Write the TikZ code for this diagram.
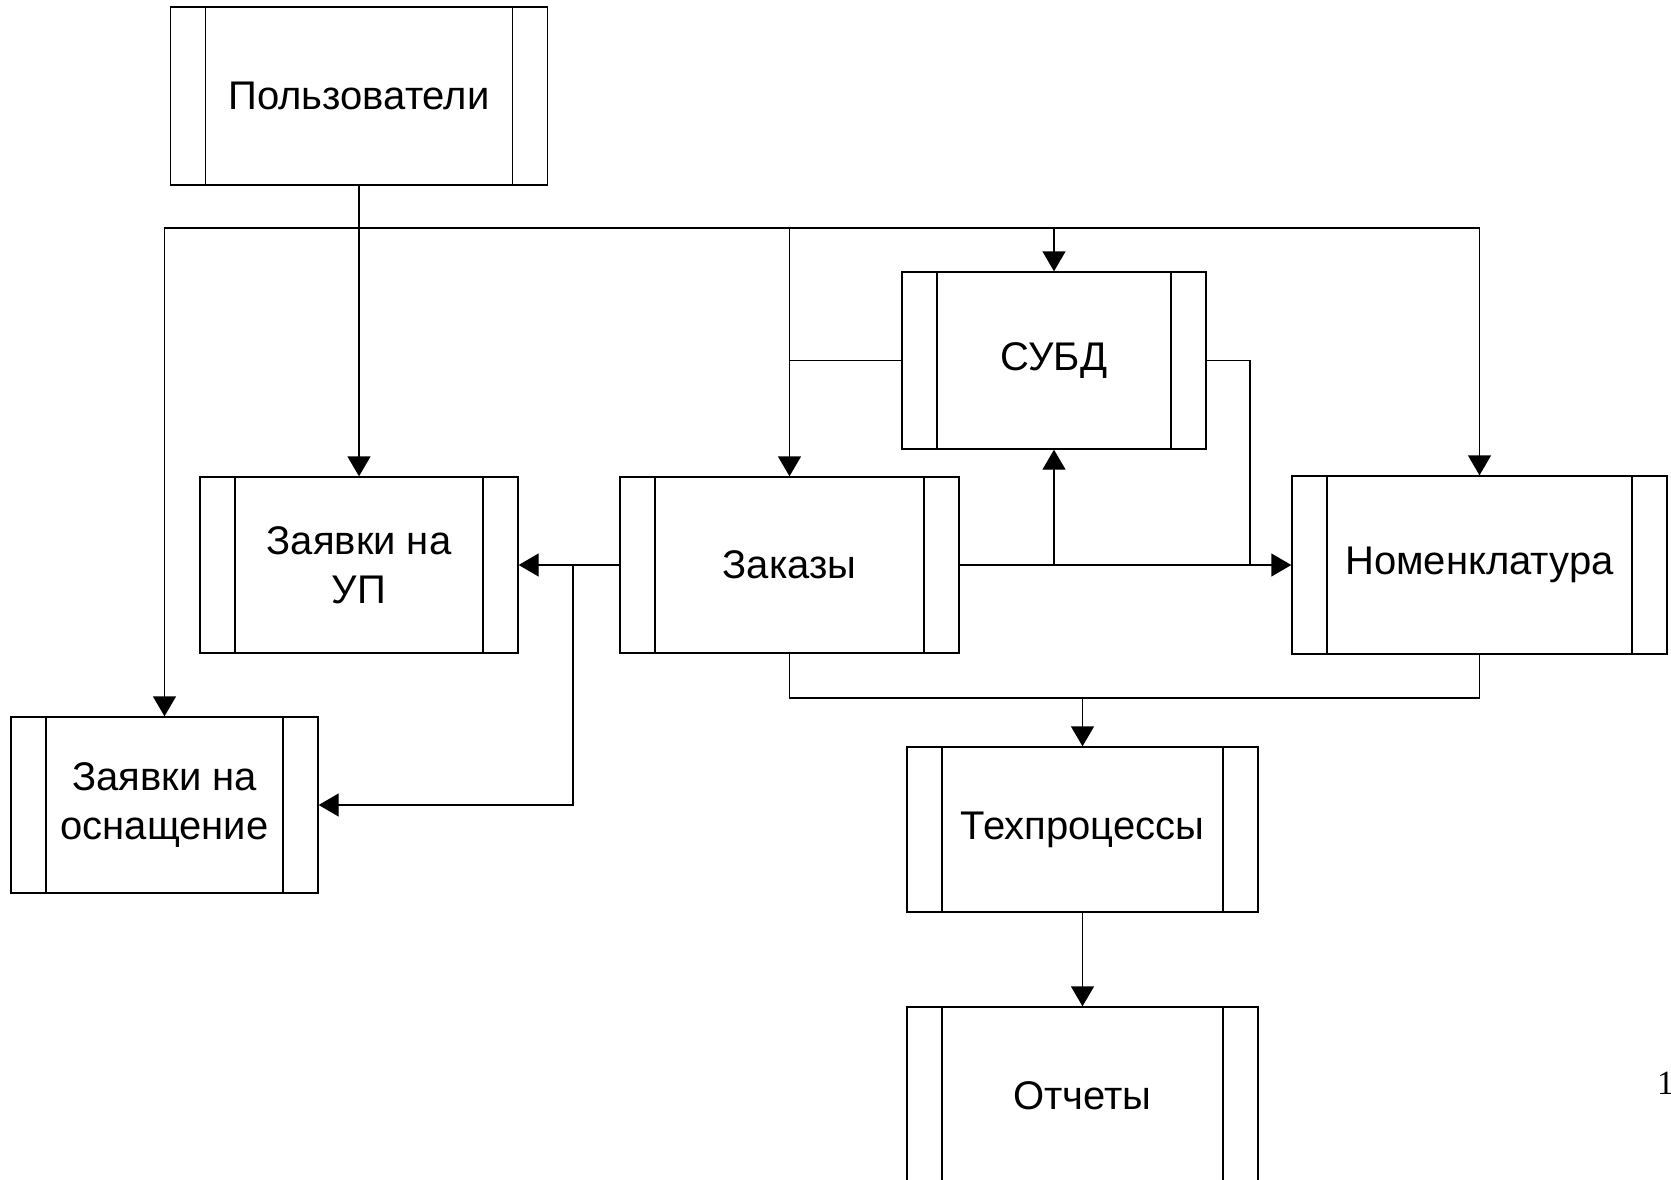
\documentclass[tikz,border=0pt]{standalone}
\usepackage{fontspec}
\setmainfont{Liberation Sans}
\newfontfamily\serifnum{Liberation Serif}
\usetikzlibrary{arrows.meta}
\tikzset{
  subproc/.style={draw, line width=1.4pt, inner sep=0pt, align=center,
    font=\fontsize{40}{49}\selectfont,
    path picture={
      \draw[line width=1.4pt] ([xshift=35pt]path picture bounding box.north west) -- ([xshift=35pt]path picture bounding box.south west);
      \draw[line width=1.4pt] ([xshift=-35pt]path picture bounding box.north east) -- ([xshift=-35pt]path picture bounding box.south east);
    }},
  conn/.style={line width=1.4pt},
  arr/.style={conn, -{Triangle[length=20pt,width=23pt]}}
}
\begin{document}
\begin{tikzpicture}[x=1pt,y=-1pt]
\useasboundingbox (0,0) rectangle (1671,1180);
\clip (0,0) rectangle (1671,1180);
\node[subproc, minimum width=377pt, minimum height=178pt] (user) at (359,96) {Пользователи};
\node[subproc, minimum width=304pt, minimum height=177pt] (subd) at (1054,360.5) {СУБД};
\node[subproc, minimum width=318pt, minimum height=176pt] (up) at (359,565) {Заявки на\\УП};
\node[subproc, minimum width=339pt, minimum height=176pt] (zak) at (789.5,565) {Заказы};
\node[subproc, minimum width=375pt, minimum height=178pt] (nom) at (1479.5,565) {Номенклатура};
\node[subproc, minimum width=307pt, minimum height=176pt] (osn) at (164.5,805) {Заявки на\\оснащение};
\node[subproc, minimum width=351pt, minimum height=165pt] (tech) at (1082.5,829.5) {Техпроцессы};
\node[subproc, minimum width=351pt, minimum height=178pt] (otch) at (1082.5,1096) {Отчеты};
\node[anchor=base west, inner sep=0pt, font=\serifnum\fontsize{34}{40}\selectfont] (pnum) at (1657,1094) {1};
% bus
\coordinate (bus) at (359,228);
\draw[arr] (user.south) -- (up.north);
\draw[arr] (bus) -| (osn.north);
\draw[arr] (bus) -| (nom.north);
\draw[arr] (zak.north |- bus) -- (zak.north);
\draw[arr] (subd.north |- bus) -- (subd.north);
% SUBD links
\draw[conn] (subd.west) -- (subd.west -| zak.north);
\coordinate (jr) at (1250,565);
\draw[conn] (subd.east) -| (jr);
\draw[arr] (zak.east) -- (nom.west);
\draw[arr] (zak.east -| subd.south) -- (subd.south);
% left links
\coordinate (jl) at (573,565);
\draw[arr] (zak.west) -- (up.east);
\draw[arr] (jl) |- (osn.east);
% bottom links
\coordinate (jb) at (1082.5,698);
\draw[conn] (zak.south) |- (jb) -| (nom.south);
\draw[arr] (jb) -- (tech.north);
\draw[arr] (tech.south) -- (otch.north);
\end{tikzpicture}
\end{document}
